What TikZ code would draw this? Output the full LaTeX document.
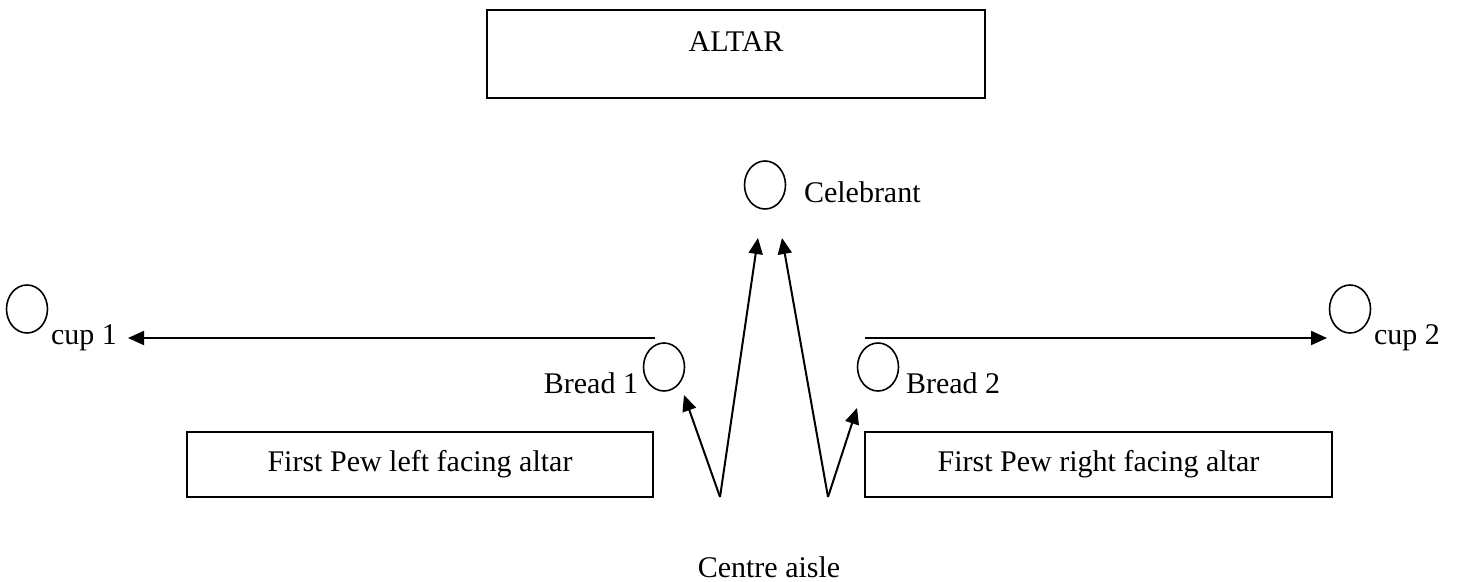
\documentclass[tikz,border=0pt]{standalone}
\usepackage{fontspec}
\setmainfont{Liberation Serif}
\usetikzlibrary{arrows.meta,shapes.geometric}

\begin{document}
\begin{tikzpicture}[x=0.5pt, y=-0.5pt, >={Triangle[length=8pt,width=7pt]},
                    line width=1pt, font=\fontsize{15}{18}\selectfont]
    \tikzstyle{seat}=[draw, ellipse, line width=0.8pt, minimum width=20.5pt,
                      minimum height=24pt, inner sep=0pt]
    \tikzstyle{furniture}=[draw, rectangle, inner sep=0pt]
    \tikzstyle{caption}=[inner sep=0pt]
    \tikzstyle{walk}=[->, line width=1pt]

    \useasboundingbox (0,0) rectangle (1459,582);

    \node[furniture, minimum width=249pt, minimum height=44pt] (altar) at (736,54) {};
    \node[caption, anchor=base]       (altartxt)  at (736,52)    {ALTAR};

    \node[seat]                       (celeb)     at (765,185)   {};
    \node[caption, anchor=base west]  (celebtxt)  at (803,203)   {Celebrant};

    \node[seat]                       (bread1)    at (664,367)   {};
    \node[caption, anchor=base east]  (bread1txt) at (639,393)   {Bread 1};
    \node[seat]                       (bread2)    at (878,367)   {};
    \node[caption, anchor=base west]  (bread2txt) at (905,393)   {Bread 2};

    \node[seat]                       (cup1)      at (27,309)    {};
    \node[caption, anchor=base west]  (cup1txt)   at (50,344)    {cup 1};
    \node[seat]                       (cup2)      at (1350,309)  {};
    \node[caption, anchor=base west]  (cup2txt)   at (1373,344)  {cup 2};

    \node[furniture, minimum width=233pt, minimum height=32.5pt] (pewL) at (420,464.5)
        {First Pew left facing altar};
    \node[furniture, minimum width=233.5pt, minimum height=32.5pt] (pewR) at (1098.5,464.5)
        {First Pew right facing altar};

    \node[caption, anchor=base]       (aisle)     at (769,577)   {Centre aisle};

    % where the walks start and stop
    \coordinate (aisleL)    at (720,497);
    \coordinate (aisleR)    at (828,497);
    \coordinate (celebL)    at (758,238);
    \coordinate (celebR)    at (782,238);
    \coordinate (bread1tip) at (684,395);
    \coordinate (bread2tip) at (857,408);
    \coordinate (cup1from)  at (655,338);
    \coordinate (cup1tip)   at (128,338);
    \coordinate (cup2from)  at (865,338);
    \coordinate (cup2tip)   at (1327,338);

    \draw[walk] (aisleL) -- (celebL);
    \draw[walk] (aisleR) -- (celebR);
    \draw[walk] (aisleL) -- (bread1tip);
    \draw[walk] (aisleR) -- (bread2tip);
    \draw[walk] (cup1from) -- (cup1tip);
    \draw[walk] (cup2from) -- (cup2tip);
\end{tikzpicture}
\end{document}
